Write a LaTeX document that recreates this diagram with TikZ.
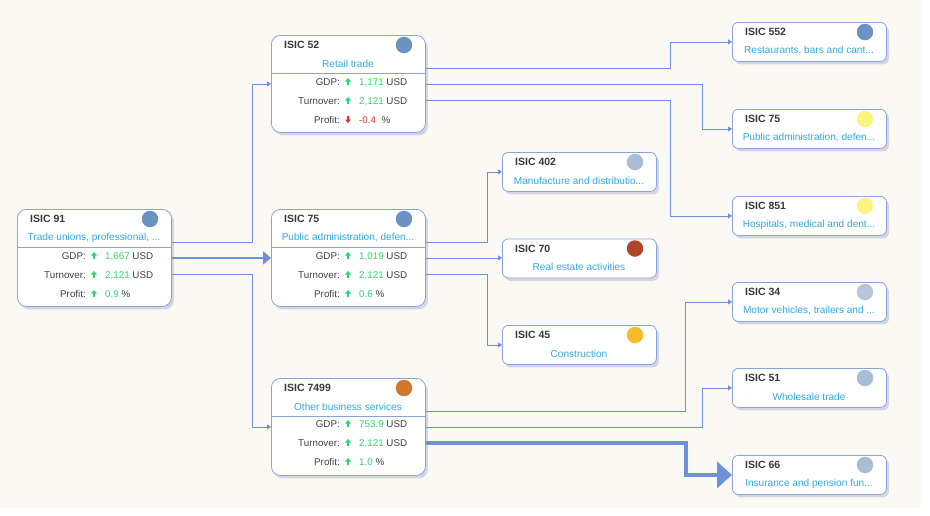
\documentclass[tikz,border=0pt]{standalone}
\usepackage{fontspec}
\setmainfont{Liberation Sans}
\usetikzlibrary{arrows.meta,shadows}
\definecolor{bgc}{HTML}{FAF9F3}
\definecolor{bordc}{HTML}{87A5DA}
\definecolor{connc}{HTML}{6E90DA}
\definecolor{ttlc}{HTML}{383838}
\definecolor{lblc}{HTML}{404040}
\definecolor{subc}{HTML}{2FA9DF}
\definecolor{upc}{HTML}{2BD96B}
\definecolor{dnc}{HTML}{E0302A}
\definecolor{cblue}{HTML}{6A93C2}
\definecolor{cgrey}{HTML}{A9BED4}
\definecolor{cgreyl}{HTML}{B6C6DA}
\definecolor{cyel}{HTML}{FAF57E}
\definecolor{corange}{HTML}{D2782C}
\definecolor{crust}{HTML}{B0452A}
\definecolor{camber}{HTML}{F7BB2A}
\tikzset{
  boxbase/.style={draw=bordc, fill=white, line width=0.8pt, inner sep=0pt,
    minimum width=154pt,
    drop shadow={shadow xshift=2.5pt, shadow yshift=-3pt, opacity=0.3, fill=black!40!blue!50}},
  bigbox/.style={boxbase, rounded corners=9pt, minimum height=97pt},
  smallbox/.style={boxbase, rounded corners=6pt, minimum height=39pt},
  ttl/.style={anchor=west, inner sep=0pt, text=ttlc, font=\fontsize{10.5}{12}\selectfont\bfseries},
  sub/.style={inner sep=0pt, text=subc, font=\fontsize{10.1}{12}\selectfont},
  lbl/.style={inner sep=0pt, text=lblc, text height=7pt, text depth=2pt, font=\fontsize{9.8}{11}\selectfont},
  dotc/.style={circle, inner sep=0pt, minimum size=16.5pt},
  sepline/.style={draw=bordc, line width=0.8pt},
  conn/.style={draw=connc, line width=0.8pt, -{Triangle[length=4pt,width=5pt]}},
  thickA/.style={draw=connc, line width=2.6pt, -{Triangle[length=8pt,width=13pt]}},
  thickB/.style={draw=connc, line width=3.5pt, -{Triangle[length=15pt,width=26pt]}},
}
\newcommand\Arrup{\fill[upc] (0,-5) -- (3,-1.5) -- (1,-1.5) -- (1,2) -- (-1,2) -- (-1,-1.5) -- (-3,-1.5) -- cycle;}
\newcommand\Arrdn{\fill[dnc] (0,2) -- (3,-1.5) -- (1,-1.5) -- (1,-5) -- (-1,-5) -- (-1,-1.5) -- (-3,-1.5) -- cycle;}
\newcommand\BigBox[6]{%
  \node[bigbox, anchor=north west] (#1) at (#2,#3) {};
  \node[ttl] (#1-t) at ({#2+13},{#3+10}) {#4};
  \node[dotc, fill=#5] (#1-c) at ({#2+133},{#3+10}) {};
  \node[sub] (#1-s) at ({#2+77},{#3+28.5}) {#6};
  \draw[sepline] ([yshift=-38pt]#1.north west) -- ([yshift=-38pt]#1.north east);
}
\newcommand\SmallBox[6]{%
  \node[smallbox, anchor=north west] (#1) at (#2,#3) {};
  \node[ttl] (#1-t) at ({#2+13},{#3+10}) {#4};
  \node[dotc, fill=#5] (#1-c) at ({#2+133},{#3+10}) {};
  \node[sub] (#1-s) at ({#2+77},{#3+28.5}) {#6};
}
\newcommand\Row[7]{%
  \node[lbl, anchor=east] (#1) at ({#2+69},#3) {#4};
  \begin{scope}[shift={({#2+77},#3)}]\csname Arr#5\endcsname\end{scope}
  \node[lbl, anchor=west] (#1-v) at ({#2+88},#3) {\textcolor{#5c}{#6}\ #7};
}
\begin{document}
\begin{tikzpicture}[x=1pt, y=-1pt]
\useasboundingbox (0,0) rectangle (930,515);
\fill[bgc] (0,0) rectangle (921,508);

% left
\BigBox{n91}{17}{209}{ISIC 91}{cblue}{Trade unions, professional, ...}
\Row{n91g}{17}{257}{GDP:}{up}{1,667}{USD}
\Row{n91t}{17}{276}{Turnover:}{up}{2,121}{USD}
\Row{n91p}{17}{295}{Profit:}{up}{0.9}{\%}

% middle column
\BigBox{n52}{271}{35}{ISIC 52}{cblue}{Retail trade}
\Row{n52g}{271}{83}{GDP:}{up}{1,171}{USD}
\Row{n52t}{271}{102}{Turnover:}{up}{2,121}{USD}
\Row{n52p}{271}{121}{Profit:}{dn}{-0.4}{\ \%}

\BigBox{m75}{271}{209}{ISIC 75}{cblue}{Public administration, defen...}
\Row{m75g}{271}{257}{GDP:}{up}{1,019}{USD}
\Row{m75t}{271}{276}{Turnover:}{up}{2,121}{USD}
\Row{m75p}{271}{295}{Profit:}{up}{0.6}{\%}

\BigBox{n7499}{271}{378}{ISIC 7499}{corange}{Other business services}
\Row{n7499g}{271}{425}{GDP:}{up}{753.9}{USD}
\Row{n7499t}{271}{444}{Turnover:}{up}{2,121}{USD}
\Row{n7499p}{271}{463}{Profit:}{up}{1.0}{\%}

% small middle
\SmallBox{s402}{502}{152}{ISIC 402}{cgrey}{Manufacture and distributio...}
\SmallBox{s70}{502}{238.5}{ISIC 70}{crust}{Real estate activities}
\SmallBox{s45}{502}{325}{ISIC 45}{camber}{Construction}

% right column
\SmallBox{r552}{732}{22}{ISIC 552}{cblue}{Restaurants, bars and cant...}
\SmallBox{r75}{732}{109}{ISIC 75}{cyel}{Public administration, defen...}
\SmallBox{r851}{732}{196}{ISIC 851}{cyel}{Hospitals, medical and dent...}
\SmallBox{r34}{732}{282}{ISIC 34}{cgreyl}{Motor vehicles, trailers and ...}
\SmallBox{r51}{732}{368}{ISIC 51}{cgrey}{Wholesale trade}
\SmallBox{r66}{732}{455}{ISIC 66}{cgrey}{Insurance and pension fun...}

% connectors
\draw[conn] ([yshift=16pt]n91.east) -- ++(81,0) |- (n52.west);
\draw[thickA] (n91.east) -- (m75.west);
\draw[conn] ([yshift=-16pt]n91.east) -- ++(81,0) |- (n7499.west);

\draw[conn] ([yshift=16pt]n52.east) -- ++(245,0) |- (r552.west);
\draw[conn] (n52.east) -- ++(277,0) |- (r75.west);
\draw[conn] ([yshift=-16pt]n52.east) -- ++(245,0) |- (r851.west);

\draw[conn] ([yshift=16pt]m75.east) -- ++(62,0) |- (s402.west);
\draw[conn] (m75.east) -- (m75.east -| s70.west);
\draw[conn] ([yshift=-16pt]m75.east) -- ++(62,0) |- (s45.west);

\draw[conn] ([yshift=16pt]n7499.east) -- ++(260,0) |- (r34.west);
\draw[conn] (n7499.east) -- ++(277,0) |- (r51.west);
\draw[thickB] ([yshift=-16pt]n7499.east) -- ++(260,0) |- (r66.west);
\end{tikzpicture}
\end{document}
